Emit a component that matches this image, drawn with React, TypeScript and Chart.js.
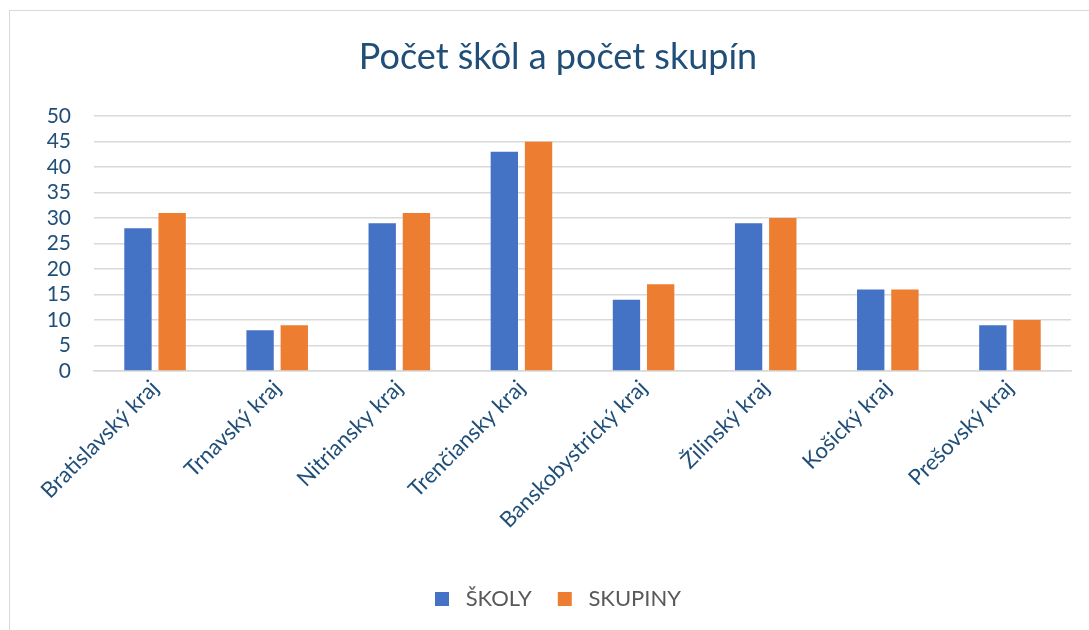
import React, { useEffect, useRef } from "react";
import { Chart, registerables } from "chart.js";

Chart.register(...registerables);

const categories = [
  "Bratislavský kraj",
  "Trnavský kraj",
  "Nitriansky kraj",
  "Trenčiansky kraj",
  "Banskobystrický kraj",
  "Žilinský kraj",
  "Košický kraj",
  "Prešovský kraj",
];
const skoly = [28, 8, 29, 43, 14, 29, 16, 9];
const skupiny = [31, 9, 31, 45, 17, 30, 16, 10];
const seriesNames = ["ŠKOLY", "SKUPINY"];
const titleText = "Počet škôl a počet skupín";

const FONT = "Lato, 'Open Sans', sans-serif";
const TEXT_BLUE = "#1f4e79";
const COLORS = ["#4472c4", "#ed7d31"];

export default function App() {
  const ref = useRef<HTMLCanvasElement | null>(null);
  useEffect(() => {
    if (!ref.current) return;
    const chart = new Chart(ref.current, {
      type: "bar",
      data: {
        labels: categories,
        datasets: [
          {
            label: seriesNames[0],
            data: skoly,
            backgroundColor: COLORS[0],
            borderWidth: 0,
            barPercentage: 0.8,
            categoryPercentage: 0.56,
          },
          {
            label: seriesNames[1],
            data: skupiny,
            backgroundColor: COLORS[1],
            borderWidth: 0,
            barPercentage: 0.8,
            categoryPercentage: 0.56,
          },
        ],
      },
      options: {
        responsive: false,
        animation: false,
        maintainAspectRatio: false,
        layout: { padding: { left: 0, right: 0, top: 0, bottom: 10 } },
        plugins: {
          title: {
            display: true,
            text: titleText,
            color: TEXT_BLUE,
            font: { family: FONT, size: 36, weight: "normal" },
            padding: { top: 36, bottom: 37 },
          },
          legend: {
            position: "bottom",
            labels: {
              color: "#595959",
              font: { family: FONT, size: 22 },
              boxWidth: 14,
              boxHeight: 14,
              padding: 26,
              generateLabels: (c: any) =>
                c.data.datasets.map((ds: any, i: number) => ({
                  text: " " + ds.label,
                  fillStyle: ds.backgroundColor,
                  strokeStyle: ds.backgroundColor,
                  lineWidth: 0,
                  fontColor: "#595959",
                  hidden: false,
                  datasetIndex: i,
                })),
            },
          },
          tooltip: { enabled: false },
        },
        scales: {
          x: {
            grid: { display: false, drawTicks: false },
            border: { color: "#d9d9d9", width: 1.5 },
            ticks: {
              color: TEXT_BLUE,
              font: { family: FONT, size: 22 },
              maxRotation: 45,
              minRotation: 45,
              padding: 4,
              autoSkip: false,
            },
            afterFit: (scale: any) => {
              scale.height = 191;
            },
          },
          y: {
            min: 0,
            max: 50,
            grid: { color: "#d9d9d9", lineWidth: 1.5, drawTicks: false },
            border: { display: false },
            ticks: {
              stepSize: 5,
              autoSkip: false,
              color: TEXT_BLUE,
              font: { family: FONT, size: 21 },
              padding: 23,
            },
            afterFit: (scale: any) => {
              scale.width = 94;
            },
          },
          yRight: {
            position: "right",
            display: true,
            grid: { display: false, drawTicks: false },
            border: { display: false },
            ticks: { display: false },
            afterFit: (scale: any) => {
              scale.width = 45;
            },
          },
        },
      },
    });
    return () => chart.destroy();
  }, []);
  return (
    <div
      style={{
        position: "fixed",
        left: 0,
        top: 0,
        width: 1089,
        height: 630,
        background: "#fff",
        overflow: "hidden",
      }}
    >
      <div
        style={{
          position: "absolute",
          left: 9,
          top: 10,
          width: 1100,
          height: 640,
          border: "1.5px solid #d9d9d9",
          boxSizing: "border-box",
        }}
      />
      <canvas ref={ref} width={1116} height={630} style={{ position: "absolute", left: 0, top: 0 }} />
    </div>
  );
}
